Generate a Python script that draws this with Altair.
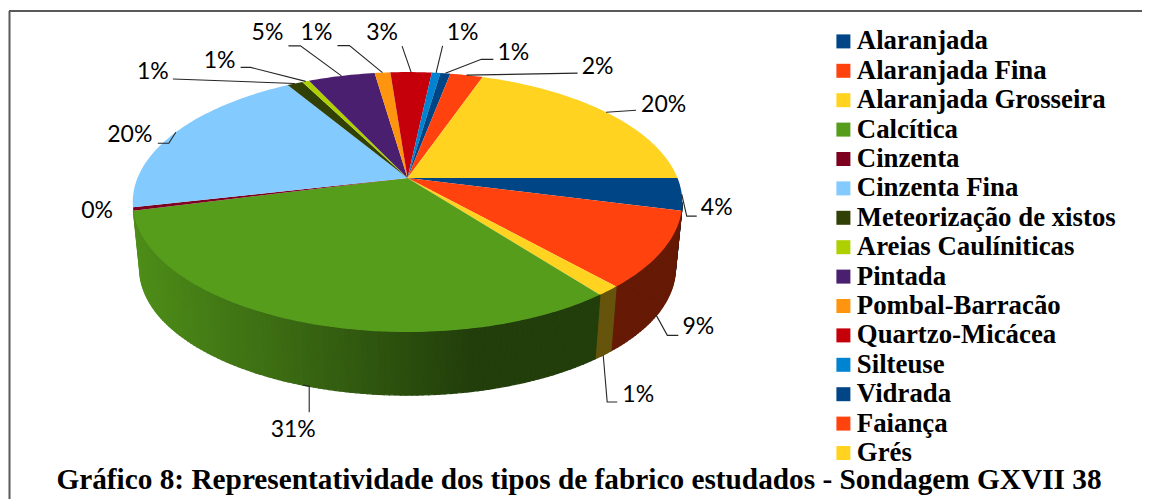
import math
import altair as alt
import pandas as pd

CATS = ["Alaranjada", "Alaranjada Fina", "Alaranjada Grosseira", "Calcítica", "Cinzenta",
        "Cinzenta Fina", "Meteorização de xistos", "Areias Caulíniticas", "Pintada",
        "Pombal-Barracão", "Quartzo-Micácea", "Silteuse", "Vidrada", "Faiança", "Grés"]
VALUES = [4.0, 9.4, 1.2, 31.4, 0.4, 20.0, 1.1, 0.5, 4.7, 1.1, 2.9, 0.6, 0.7, 2.3, 19.7]
LABELS = ["4%", "9%", "1%", "31%", "0%", "20%", "1%", "1%", "5%", "1%", "3%", "1%", "1%", "2%", "20%"]
COLORS = ["#004586", "#ff420e", "#ffd320", "#579d1c", "#7e0021", "#83caff", "#314004", "#aecf00",
          "#4b1f6f", "#ff950e", "#c5000b", "#0084d1", "#004586", "#ff420e", "#ffd320"]
TITLE = "Gráfico 8: Representatividade dos tipos de fabrico estudados - Sondagem GXVII 38"

# Perspective of the disc (layout only)
CX, CY, R, RS, K = 399.5, 170.0, 270.0, 125.5, 0.185
BOTTOM_DY, BOTTOM_S = 67.0, 0.975
EDGE = 10.7  # angle at which the rim becomes the silhouette
SIDE_END = 165.0  # no wall is drawn for slices starting past this angle

# Leader/label offsets relative to the slice's rim anchor: (elbow, end, label); rim 1 = bottom rim
LAYOUT = [
    (0, (5, 22), (15, 22), (35, 14)),
    (1, (11, 20), (22, 20), (42, 12)),
    (1, (4, 47), (14, 47), (35, 40)),
    (1, (6, 1), (6, 27), (-10, 45)),
    (0, None, None, (-36, 2)),
    (0, (-7, 11), (-18, 11), (-46, 3)),
    (0, (-122, -4.5), None, (-142, -11.5)),
    (0, (-55, -14), (-65, -14), (-86, -20)),
    (0, (-41, -30), (-53, -30), (-74, -43)),
    (0, (-33, -27), (-45, -27), (-66, -40)),
    (0, (-9, -26), None, (-29, -39)),
    (0, (6.5, -27), None, (26.5, -40)),
    (0, (36, -14), (48, -14), (68, -20)),
    (0, (111, -2), None, (131, -8)),
    (0, (30, -2), None, (57.5, -7)),
]


def top_pt(a):
    u, v = math.cos(math.radians(a)), math.sin(math.radians(a))
    den = 1 - K * v
    return [CX + R * u / den, CY + RS * v / den]


def bot_pt(a):
    x, y = top_pt(a)
    return [CX + (x - CX) * BOTTOM_S, CY + BOTTOM_DY + (y - CY) * BOTTOM_S]


def shade(color, x):
    f = 0.9 + (0.4 - 0.9) * min(1.0, max(0.0, (x - 127) / 335))
    ch = [int(color[i:i + 2], 16) for i in (1, 3, 5)]
    return "#%02x%02x%02x" % tuple(int(c * f) for c in ch)


def steps(a0, a1, d=1.0):
    n = max(1, int(math.ceil((a1 - a0) / d)))
    return [a0 + (a1 - a0) * i / n for i in range(n + 1)]


total = sum(VALUES)
tops, sides, leaders, texts = [], [], [], []
cum = 0.0
for cat, val, lab, col, lay in zip(CATS, VALUES, LABELS, COLORS, LAYOUT):
    a0, a1 = cum / total * 360, (cum + val) / total * 360
    mid = (a0 + a1) / 2
    cum += val

    ring = [[CX, CY]] + [top_pt(a) for a in steps(a0, a1)] + [[CX, CY]]
    tops.append({"type": "Feature", "geometry": {"type": "Polygon", "coordinates": [ring]},
                 "properties": {"cat": cat}})

    s0, s1 = max(a0, EDGE), a1
    if s1 > s0 and a0 < SIDE_END:
        st = steps(s0, s1)
        for p, q in zip(st[:-1], st[1:]):
            poly = [top_pt(p), top_pt(q), bot_pt(q), bot_pt(p), top_pt(p)]
            xm = (poly[0][0] + poly[1][0]) / 2
            sides.append({"type": "Feature", "geometry": {"type": "Polygon", "coordinates": [poly]},
                          "properties": {"fill": shade(col, xm)}})

    rim, elbow, end, off = lay
    ax, ay = bot_pt(mid) if rim else top_pt(mid)
    if elbow is not None:
        pts = [[ax, ay], [ax + elbow[0], ay + elbow[1]]]
        if end is not None:
            pts.append([ax + end[0], ay + end[1]])
        leaders.append({"type": "Feature", "geometry": {"type": "LineString", "coordinates": pts},
                        "properties": {"cat": cat}})
    texts.append({"lx": ax + off[0], "ly": ay + off[1], "label": lab})

proj = dict(type="identity", scale=1, translate=[0, 0])

side_layer = (
    alt.Chart(alt.Data(values=sides))
    .mark_geoshape(strokeWidth=1.2)
    .encode(fill=alt.Fill("properties.fill:N", scale=None),
            stroke=alt.Stroke("properties.fill:N", scale=None))
    .project(**proj)
)

top_layer = (
    alt.Chart(alt.Data(values=tops))
    .mark_geoshape(strokeWidth=0)
    .encode(
        color=alt.Color(
            "properties.cat:N",
            scale=alt.Scale(domain=CATS, range=COLORS),
            sort=CATS,
            legend=alt.Legend(
                title=None, orient="none", legendX=820, legendY=20,
                symbolType="square", symbolSize=196, symbolStrokeWidth=0, symbolOffset=2,
                labelFont="Liberation Serif", labelFontWeight="bold", labelFontSize=26.8,
                labelColor="#000000", labelLimit=320, labelOffset=0, rowPadding=1.4,
                values=CATS,
            ),
        )
    )
    .project(**proj)
)

leader_layer = (
    alt.Chart(alt.Data(values=leaders))
    .mark_geoshape(filled=False, stroke="#262626", strokeWidth=1.1)
    .project(**proj)
)

text_layer = (
    alt.Chart(pd.DataFrame(texts))
    .mark_text(font="Lato", fontSize=23, color="#000000", align="center", baseline="middle")
    .encode(longitude="lx:Q", latitude="ly:Q", text="label:N")
    .project(**proj)
)

frame_left = alt.Chart(pd.DataFrame({"a": [0]})).mark_rule(color="#595959", strokeWidth=2).encode(
    x=alt.value(1.5), y=alt.value(3), y2=alt.value(491))
frame_top = alt.Chart(pd.DataFrame({"a": [0]})).mark_rule(color="#595959", strokeWidth=2).encode(
    y=alt.value(3), x=alt.value(1), x2=alt.value(1134))

chart = (
    alt.layer(side_layer, top_layer, leader_layer, text_layer, frame_left, frame_top)
    .properties(
        width=1134, height=491, padding=0,
        autosize=alt.AutoSizeParams(type="none"),
        title=alt.TitleParams(
            TITLE, orient="top", anchor="middle", frame="group", offset=0, dy=510, dx=4,
            baseline="alphabetic", font="Liberation Serif", fontSize=29.3, fontWeight="bold",
            color="#000000", limit=1140,
        ),
    )
    .configure_view(strokeWidth=0)
)

chart.save("out.html", embed_options={"renderer": "svg", "actions": False})
